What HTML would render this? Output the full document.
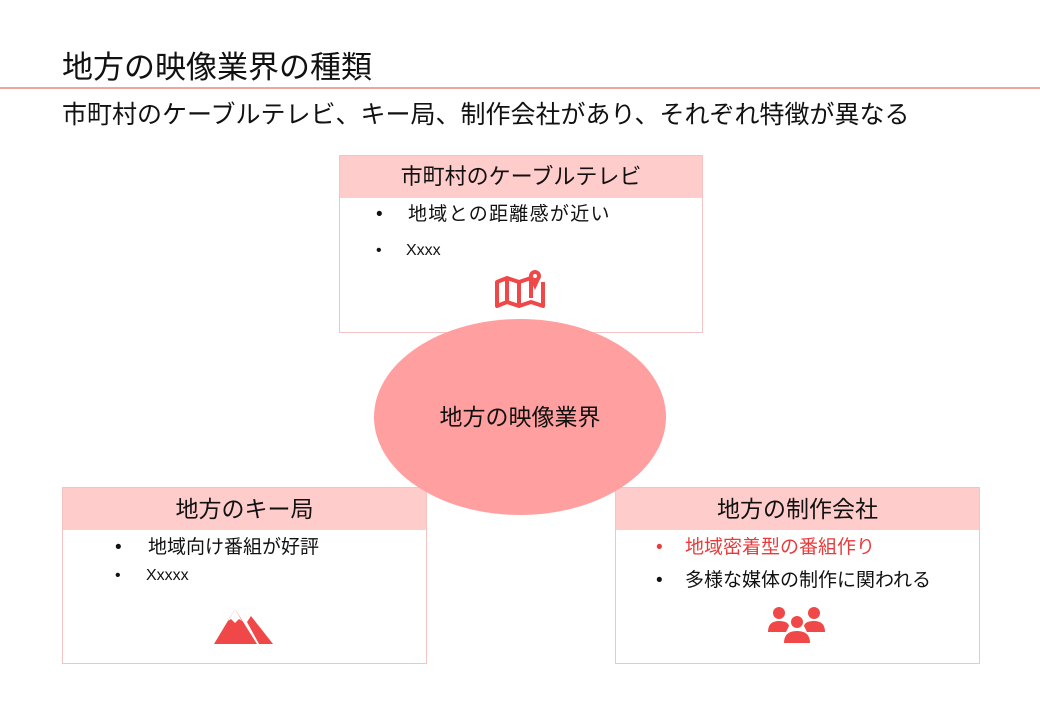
<!DOCTYPE html>
<html><head><meta charset="utf-8"><style>
body{margin:0;width:1040px;height:720px;background:#fff;position:relative;overflow:hidden;font-family:"Liberation Sans","Noto Sans CJK JP",sans-serif;color:#111}
.a{position:absolute;white-space:nowrap}
.box{position:absolute;border:1px solid #f4c4c4;background:#fff}
.hd{position:absolute;left:0;right:0;top:0;height:42px;background:#ffcccc;font-size:22px;text-align:center;line-height:42px}
.li{position:absolute;font-size:19px;white-space:nowrap;line-height:24px}
</style></head><body>
<div class="a" style="left:62px;top:42px;font-size:31px">地方の映像業界の種類</div>
<div class="a" style="left:0;top:87px;width:1040px;height:2px;background:#f4a3a3"></div>
<div class="a" style="left:62px;top:95px;font-size:25px">市町村のケーブルテレビ、キー局、制作会社があり、それぞれ特徴が異なる</div>

<div class="box" style="left:339px;top:155px;width:362px;height:176px">
<div class="hd">市町村のケーブルテレビ</div>
<div class="li" style="left:36px;top:47px"><span style="position:absolute;left:0">•</span><span style="position:absolute;left:32px;letter-spacing:1.3px">地域との距離感が近い</span></div>
<div class="li" style="left:36px;top:83px;font-size:16px"><span style="position:absolute;left:0">•</span><span style="position:absolute;left:30px">Xxxx</span></div>
<svg class="a" style="left:155px;top:112px" width="52" height="44" viewBox="0 0 52 44"><g fill="none" stroke="#f04848" stroke-width="4" stroke-linejoin="round"><path d="M2 14 L12 10 L24 14 L24 38 L12 34 L2 38 Z M12 10 V34 M24 14 L36 10 V30 M48 14 V38 L36 34 L24 38"/></g><circle cx="40" cy="8" r="6" fill="#f04848"/><circle cx="40" cy="8" r="2" fill="#fff"/><path d="M35 11 L40 22 L45 11Z" fill="#f04848"/></svg>
</div>

<div class="box" style="left:62px;top:487px;width:363px;height:175px">
<div class="hd" style="font-size:23px">地方のキー局</div>
<div class="li" style="left:52px;top:48px"><span style="position:absolute;left:0">•</span><span style="position:absolute;left:33px">地域向け番組が好評</span></div>
<div class="li" style="left:52px;top:76px;font-size:16px"><span style="position:absolute;left:0">•</span><span style="position:absolute;left:31px">Xxxxx</span></div>
<svg class="a" style="left:150px;top:118px" width="62" height="40" viewBox="0 0 62 40"><path d="M1 38 L22 3 L44 38Z" fill="#f04848"/><path d="M15 15 L22 3 L29 15 L26 13 L22 17 L18 13Z" fill="#fff"/><path d="M46 38 L34 16 L38 10 L60 38Z" fill="#f04848"/></svg>
</div>

<div class="box" style="left:615px;top:487px;width:363px;height:175px">
<div class="hd" style="font-size:23px">地方の制作会社</div>
<div class="li" style="left:40px;top:48px;color:#e83c3c"><span style="position:absolute;left:0">•</span><span style="position:absolute;left:29px">地域密着型の番組作り</span></div>
<div class="li" style="left:40px;top:81px"><span style="position:absolute;left:0">•</span><span style="position:absolute;left:29px">多様な媒体の制作に関われる</span></div>
<svg class="a" style="left:152px;top:118px" width="58" height="40" viewBox="0 0 58 40"><g fill="#f04848"><circle cx="11" cy="7" r="6"/><circle cx="46" cy="7" r="6"/><path d="M0 26 Q0 15 11 15 Q20 15 21 20 L18 26Z M57 26 Q57 15 46 15 Q37 15 36 20 L39 26Z"/><circle cx="29" cy="16" r="6"/><path d="M16 37 Q16 25 29 25 Q42 25 42 37Z"/></g></svg>
</div>

<div class="a" style="left:374px;top:319px;width:292px;height:196px;border-radius:50%;background:#ff9f9f;font-size:23px;text-align:center;line-height:196px">地方の映像業界</div>
</body></html>
